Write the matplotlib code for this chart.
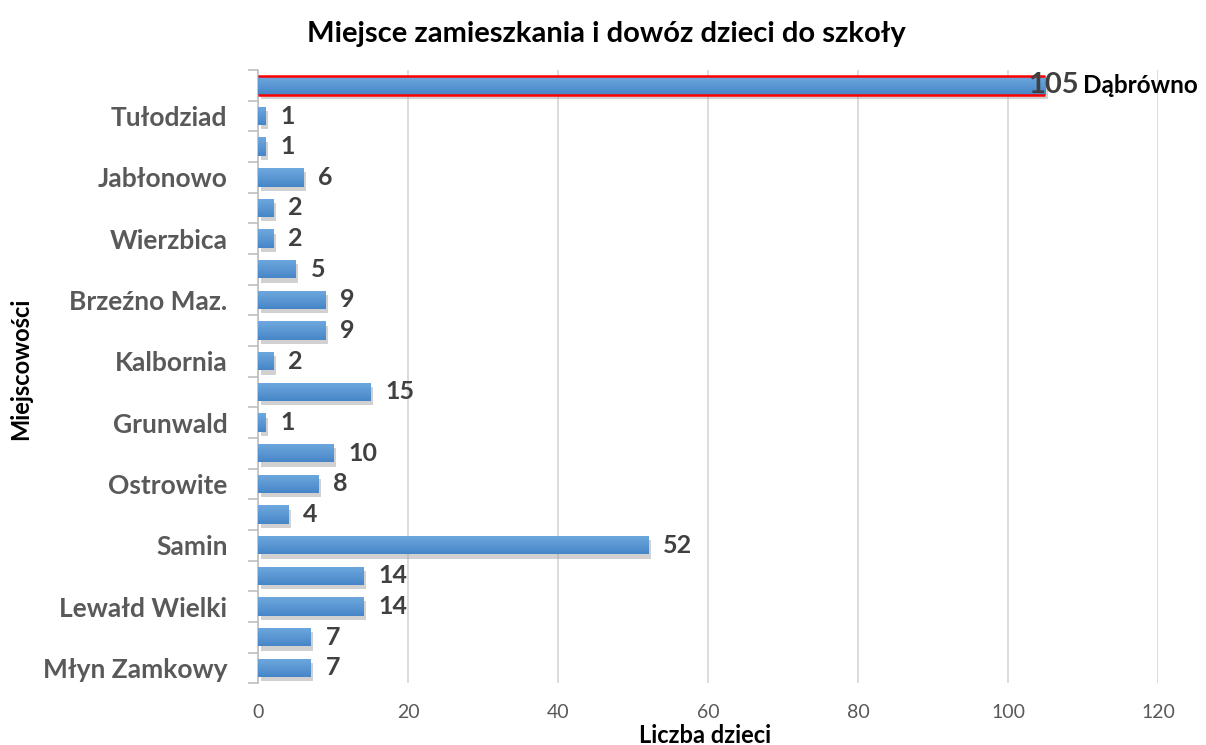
import matplotlib
matplotlib.use("Agg")
import matplotlib.pyplot as plt
import matplotlib.patheffects as pe
from matplotlib.colors import LinearSegmentedColormap
import numpy as np

# categories listed from top to bottom, as in the picture
top_place = "Dąbrówno"
shown = ["", "Tułodziad", "", "Jabłonowo", "", "Wierzbica", "", "Brzeźno Maz.", "",
         "Kalbornia", "", "Grunwald", "", "Ostrowite", "", "Samin", "", "Lewałd Wielki",
         "", "Młyn Zamkowy"]
children = [105, 1, 1, 6, 2, 2, 5, 9, 9, 2, 15, 1, 10, 8, 4, 52, 14, 14, 7, 7]
xticks = [0, 20, 40, 60, 80, 100, 120]

FONT = "Lato"
plt.rcParams["font.family"] = [FONT, "DejaVu Sans"]

n = len(children)
ypos = np.arange(n)[::-1]  # first item on top

fig = plt.figure(figsize=(12.06, 7.45), dpi=100)
ax = fig.add_axes([0.2139, 0.083, 0.7463, 0.823])

bar_h = 0.6
grad = LinearSegmentedColormap.from_list("bar", ["#4686c8", "#6fa8de"])
shadow = [pe.SimplePatchShadow(offset=(2, -3), shadow_rgbFace="#9a9a9a", alpha=0.45),
          pe.Normal()]
bars = ax.barh(ypos, children, height=bar_h, color="#5b9bd5", zorder=3,
               path_effects=shadow)
g = np.linspace(0, 1, 50).reshape(-1, 1)
for b in bars:
    x0, y0, w, h = b.get_x(), b.get_y(), b.get_width(), b.get_height()
    im = ax.imshow(g, cmap=grad, aspect="auto", extent=(x0, x0 + w, y0, y0 + h),
                   origin="lower", zorder=4)
    im.set_clip_path(b)

# top bar: red lines along its top and bottom edges
top = bars[0]
for yy in (top.get_y(), top.get_y() + top.get_height()):
    ax.plot([top.get_x(), top.get_x() + top.get_width()], [yy, yy],
            color="#ff0000", lw=1.8, zorder=5, solid_capstyle="butt")

for y, v in zip(ypos, children):
    if v == max(children):
        ax.text(v - 2.3, y, f"{v}", va="center", ha="left", fontsize=21,
                fontweight="bold", color="#404040", zorder=6)
        ax.text(v + 5.0, y, top_place, va="center", ha="left", fontsize=17.5,
                fontweight="bold", color="black", zorder=6)
    else:
        ax.text(v + 2.0, y, f"{v}", va="center", ha="left", fontsize=18,
                fontweight="bold", color="#404040", zorder=6)

ax.set_xlim(0, 120)
ax.set_ylim(-0.5, n - 0.5)
ax.set_xticks(xticks)
ax.set_xticklabels([str(t) for t in xticks], fontsize=14, color="#595959")
ax.tick_params(axis="x", length=0, pad=15)
ax.grid(axis="x", color="#d9d9d9", lw=1.3, zorder=0)

ax.set_yticks(ypos)
ax.set_yticklabels(shown, fontsize=19, fontweight="bold", color="#595959")
ax.tick_params(axis="y", which="major", length=0, pad=22)
ax.set_yticks(np.arange(n + 1) - 0.5, minor=True)
ax.tick_params(axis="y", which="minor", length=7, color="#bfbfbf", width=1.2)

for s in ["top", "right", "bottom"]:
    ax.spines[s].set_visible(False)
ax.spines["left"].set_color("#bfbfbf")
ax.spines["left"].set_linewidth(1.2)

fig.text(0.503, 0.955, "Miejsce zamieszkania i dowóz dzieci do szkoły", ha="center",
         va="center", fontsize=21, fontweight="bold", color="black")
fig.text(0.585, 0.013, "Liczba dzieci", ha="center", va="center", fontsize=17,
         fontweight="bold", color="black")
fig.text(0.017, 0.505, "Miejscowości", ha="center", va="center", rotation=90,
         fontsize=17, fontweight="bold", color="black")

fig.savefig("out.png", dpi=100)
